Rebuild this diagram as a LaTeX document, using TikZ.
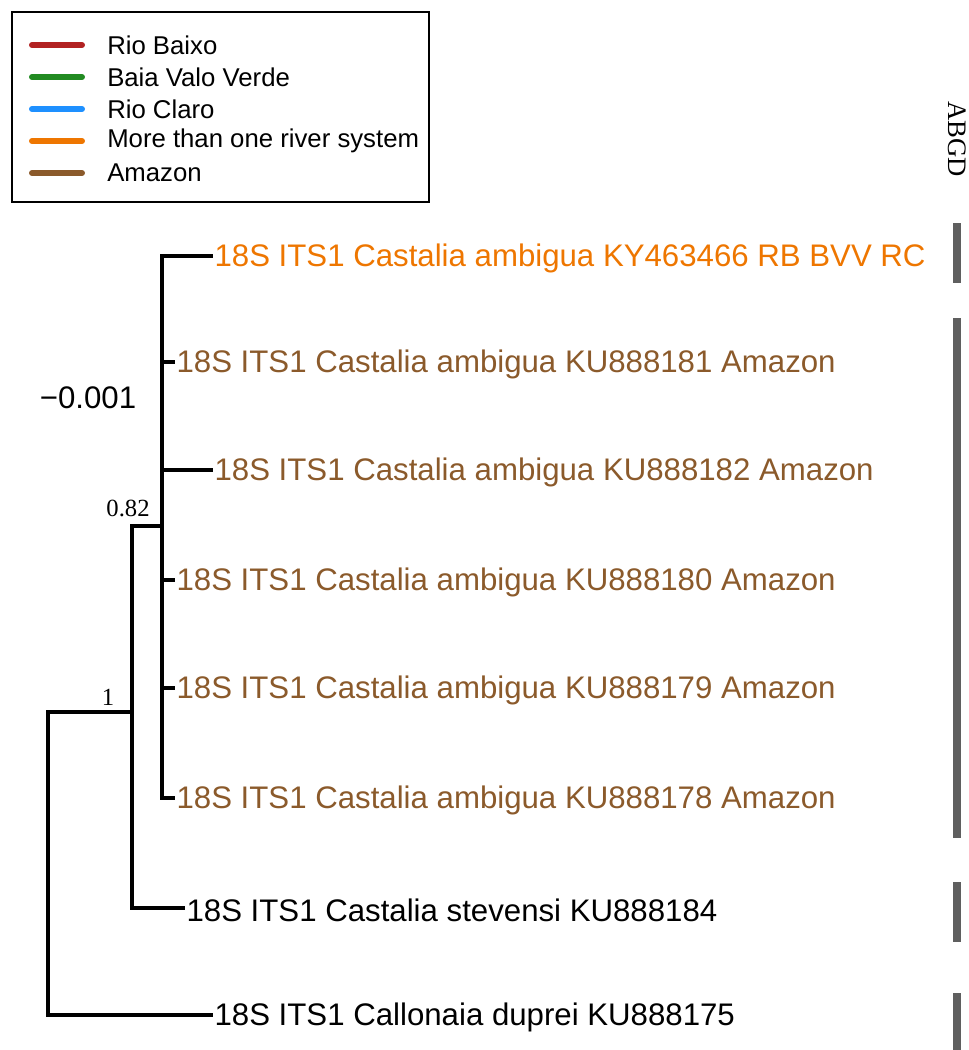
\documentclass[tikz,border=0pt]{standalone}
\usepackage{fontspec}
\setmainfont{Liberation Sans}
\newfontfamily\abgdfont{Liberation Serif}
\definecolor{rbred}{RGB}{178,34,34}
\definecolor{bvvgreen}{RGB}{34,139,34}
\definecolor{rcblue}{RGB}{30,144,255}
\definecolor{multorange}{RGB}{238,118,0}
\definecolor{amzbrown}{RGB}{139,90,43}
\definecolor{bargray}{RGB}{95,95,95}
\tikzstyle{branch}=[black, line width=2.9pt]
\tikzstyle{leaf}=[anchor=west, inner sep=1pt, font=\fontsize{23.4}{26}\selectfont]
\tikzstyle{keytext}=[anchor=west, inner sep=0pt, font=\fontsize{19.3}{22}\selectfont]
\tikzstyle{support}=[inner sep=0pt, font=\abgdfont\fontsize{18.5}{20}\selectfont]
\tikzstyle{abgdbar}=[bargray, line width=6pt]

\begin{document}
\begin{tikzpicture}[x=0.75pt, y=-0.75pt]
				\useasboundingbox (0,0) rectangle (969,1050);
				% legend
				\draw[line width=1.3pt] (12,12) rectangle (429,202);
				\foreach \c/\t [count=\i] in {rbred/Rio Baixo, bvvgreen/Baia Valo Verde, rcblue/Rio Claro, multorange/More than one river system, amzbrown/Amazon} {
					\draw[\c, line width=4.5pt, line cap=round] (32,13+32*\i) -- (82,13+32*\i);
					\node[keytext] (key\i) at (107,13+32*\i) {\t};
				}
				% inner nodes
				\coordinate (root) at (48,860);
				\coordinate (nA) at (132,712);
				\coordinate (nB) at (162,526);
				% tips
				\coordinate (t1) at (213,256);
				\coordinate (t2) at (175,362);
				\coordinate (t3) at (213,470);
				\coordinate (t4) at (175,580);
				\coordinate (t5) at (175,688);
				\coordinate (t6) at (175,798);
				\coordinate (t7) at (185,908);
				\coordinate (t8) at (213,1015);
				\draw[branch] (root) |- (nA);
				\draw[branch] (root) |- (t8);
				\draw[branch] (nA) |- (nB);
				\draw[branch] (nA) |- (t7);
				\foreach \k in {1,...,6} {
					\draw[branch] (nB) |- (t\k);
				}
				% tip labels
				\node[leaf, text=multorange] (l1) at ([yshift=-2]t1) {18S ITS1 Castalia ambigua KY463466 RB BVV RC};
				\node[leaf, text=amzbrown] (l2) at ([yshift=-2]t2) {18S ITS1 Castalia ambigua KU888181 Amazon};
				\node[leaf, text=amzbrown] (l3) at ([yshift=-2]t3) {18S ITS1 Castalia ambigua KU888182 Amazon};
				\node[leaf, text=amzbrown] (l4) at ([yshift=-2]t4) {18S ITS1 Castalia ambigua KU888180 Amazon};
				\node[leaf, text=amzbrown] (l5) at ([yshift=-2]t5) {18S ITS1 Castalia ambigua KU888179 Amazon};
				\node[leaf, text=amzbrown] (l6) at ([yshift=-2]t6) {18S ITS1 Castalia ambigua KU888178 Amazon};
				\node[leaf] (l7) at ([yshift=-2]t7) {18S ITS1 Castalia stevensi KU888184};
				\node[leaf] (l8) at ([yshift=-2]t8) {18S ITS1 Callonaia duprei KU888175};
				% support values
				\node[support] (s082) at (128,508) {0.82};
				\node[support] (s1) at (108,697) {1};
				\node[leaf, anchor=center] (thr) at (88,398) {−0.001};
				% ABGD
				\node[font=\abgdfont\fontsize{20}{22}\selectfont, rotate=-90, inner sep=0pt] (abgd) at (957,139) {ABGD};
				\draw[abgdbar] (957,223) -- (957,283);
				\draw[abgdbar] (957,318) -- (957,838);
				\draw[abgdbar] (957,882) -- (957,942);
				\draw[abgdbar] (957,993) -- (957,1050);
			\end{tikzpicture}
\end{document}
